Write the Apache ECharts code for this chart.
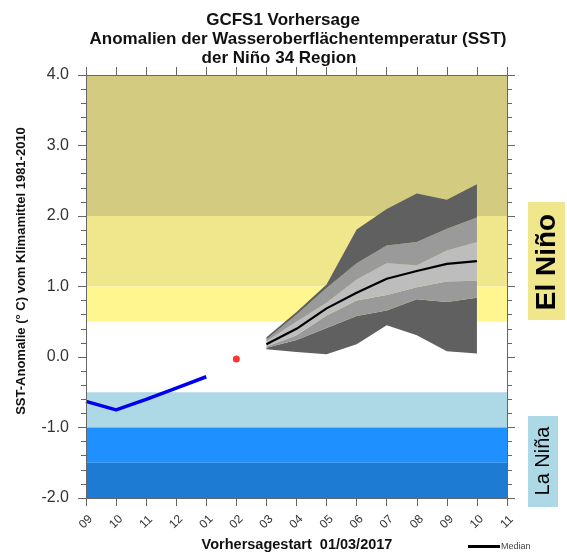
<!DOCTYPE html>
<html>
<head>
<meta charset="utf-8">
<script src="https://cdn.jsdelivr.net/npm/echarts@6/dist/echarts.min.js"></script>
<style>
  html, body { margin: 0; padding: 0; background: #fff; }
  #chart { width: 567px; height: 552px; }
</style>
</head>
<body>
<div id="chart"></div>
<script>
// month ticks along the x axis
var monthLabels = ['09','10','11','12','01','02','03','04','05','06','07','08','09','10','11'];

// observed anomaly (09/2016 .. 01/2017)
var obsStart = 0;
var obsValues = [-0.63, -0.75, -0.60, -0.44, -0.28];

// single point for 02/2017
var lastIndex = 5;
var lastValue = -0.03;

// ensemble forecast 03 .. 10
var fcStart = 6;
var fcMin    = [0.11, 0.07, 0.04, 0.18, 0.45, 0.31, 0.08, 0.05];
var fcLow2   = [0.13, 0.24, 0.41, 0.58, 0.66, 0.82, 0.78, 0.84];
var fcLow1   = [0.15, 0.31, 0.59, 0.80, 0.88, 0.99, 1.07, 1.08];
var fcMedian = [0.18, 0.40, 0.69, 0.91, 1.11, 1.22, 1.32, 1.36];
var fcHigh1  = [0.22, 0.50, 0.77, 1.10, 1.33, 1.30, 1.51, 1.63];
var fcHigh2  = [0.25, 0.60, 0.98, 1.33, 1.58, 1.63, 1.82, 1.98];
var fcMax    = [0.28, 0.64, 1.03, 1.81, 2.10, 2.32, 2.23, 2.45];

// ENSO background bands
var bandFrom   = [2.0, 1.0, 0.5, -1.0, -1.5, -2.0];
var bandTo     = [4.0, 2.0, 1.0, -0.5, -1.0, -1.5];
var bandColors = ['#d3cc80', '#f0e68c', '#fff68f', '#add8e6', '#1e90ff', '#1d7bd4'];

var DARK = '#606060', MID = '#9a9a9a', LIGHT = '#bdbdbd';

function pad(values, start) {
    var out = [];
    for (var i = 0; i < monthLabels.length; i++) {
        var k = i - start;
        out.push(k >= 0 && k < values.length ? values[k] : '-');
    }
    return out;
}

function diff(a, b) {
    return a.map(function (v, i) { return +(v - b[i]).toFixed(3); });
}

function bandSeries(name, values, color) {
    return {
        name: name,
        type: 'line',
        stack: 'fan',
        data: pad(values, fcStart),
        symbol: 'none',
        lineStyle: { width: 0, opacity: 0 },
        areaStyle: color ? { color: color, opacity: 1 } : undefined,
        silent: true,
        z: 3
    };
}

var bandAreas = bandFrom.map(function (f, i) {
    return [{ yAxis: f, itemStyle: { color: bandColors[i] } }, { yAxis: bandTo[i] }];
});

var axisGray = '#666';

var option = {
    animation: false,
    textStyle: { fontFamily: 'Liberation Sans, Arial, sans-serif' },
    grid: { left: 86, right: 60, top: 75, bottom: 54 },
    legend: {
        data: ['Median'],
        left: 463,
        top: 537,
        icon: 'rect',
        itemWidth: 32,
        itemHeight: 3,
        textStyle: { fontSize: 9, color: '#444', padding: [0, 0, 0, -4] }
    },
    graphic: [
        { type: 'text', x: 283, y: 20, style: { text: 'GCFS1 Vorhersage', font: 'bold 17px Liberation Sans', fill: '#111', textAlign: 'center', textVerticalAlign: 'middle' } },
        { type: 'text', x: 298, y: 39, style: { text: 'Anomalien der Wasseroberflächentemperatur (SST)', font: 'bold 17px Liberation Sans', fill: '#111', textAlign: 'center', textVerticalAlign: 'middle' } },
        { type: 'text', x: 279, y: 58, style: { text: 'der Niño 34 Region', font: 'bold 17px Liberation Sans', fill: '#111', textAlign: 'center', textVerticalAlign: 'middle' } },
        { type: 'text', x: 21, y: 271, rotation: Math.PI / 2, style: { text: 'SST-Anomalie (° C) vom Klimamittel 1981-2010', font: 'bold 13px Liberation Sans', fill: '#111', textAlign: 'center', textVerticalAlign: 'middle' } },
        { type: 'text', x: 297, y: 545, style: { text: 'Vorhersagestart  01/03/2017', font: 'bold 14.5px Liberation Sans', fill: '#111', textAlign: 'center', textVerticalAlign: 'middle' } },
        { type: 'rect', shape: { x: 528, y: 202, width: 37, height: 118 }, style: { fill: '#f0e68c' } },
        { type: 'text', x: 547, y: 262, rotation: Math.PI / 2, style: { text: 'El Niño', font: 'bold 28px Liberation Sans', fill: '#000', textAlign: 'center', textVerticalAlign: 'middle' } },
        { type: 'rect', shape: { x: 528, y: 416, width: 30, height: 91 }, style: { fill: '#add8e6' } },
        { type: 'text', x: 543, y: 461, rotation: Math.PI / 2, style: { text: 'La Niña', font: '20px Liberation Sans', fill: '#000', textAlign: 'center', textVerticalAlign: 'middle' } }
    ],
    xAxis: [
        {
            type: 'category',
            data: monthLabels,
            boundaryGap: false,
            z: 10,
            axisLine: { onZero: false, lineStyle: { color: axisGray } },
            axisTick: { length: 8, interval: 0, lineStyle: { color: axisGray } },
            axisLabel: { interval: 0, rotate: 45, fontSize: 12, color: '#333', margin: 24, align: 'center', verticalAlign: 'middle' },
            splitLine: { show: false }
        },
        {
            type: 'category',
            data: monthLabels,
            boundaryGap: false,
            position: 'top',
            z: 10,
            axisLine: { onZero: false, lineStyle: { color: axisGray } },
            axisTick: { length: 8, interval: 0, lineStyle: { color: axisGray } },
            axisLabel: { show: false },
            splitLine: { show: false }
        }
    ],
    yAxis: [
        {
            type: 'value',
            min: -2,
            max: 4,
            interval: 1,
            z: 10,
            axisLine: { show: true, onZero: false, lineStyle: { color: axisGray } },
            axisTick: { show: true, length: 8, lineStyle: { color: axisGray } },
            minorTick: { show: true, splitNumber: 5, length: 5, lineStyle: { color: axisGray } },
            axisLabel: { fontSize: 16, color: '#333', margin: 17, formatter: function (v) { return v.toFixed(1); } },
            splitLine: { show: false },
            minorSplitLine: { show: false }
        },
        {
            type: 'value',
            min: -2,
            max: 4,
            interval: 1,
            position: 'right',
            z: 10,
            axisLine: { show: true, onZero: false, lineStyle: { color: axisGray } },
            axisTick: { show: true, length: 8, lineStyle: { color: axisGray } },
            minorTick: { show: true, splitNumber: 5, length: 5, lineStyle: { color: axisGray } },
            axisLabel: { show: false },
            splitLine: { show: false },
            minorSplitLine: { show: false }
        }
    ],
    series: [
        {
            name: 'bands',
            type: 'line',
            data: [],
            z: 1,
            silent: true,
            markArea: { silent: true, data: bandAreas }
        },
        bandSeries('fcBase', fcMin, null),
        bandSeries('d1', diff(fcLow2, fcMin), DARK),
        bandSeries('d2', diff(fcLow1, fcLow2), MID),
        bandSeries('d3', diff(fcHigh1, fcLow1), LIGHT),
        bandSeries('d4', diff(fcHigh2, fcHigh1), MID),
        bandSeries('d5', diff(fcMax, fcHigh2), DARK),
        {
            name: 'Median',
            type: 'line',
            data: pad(fcMedian, fcStart),
            symbol: 'none',
            color: '#000',
            lineStyle: { color: '#000', width: 2.2 },
            z: 5
        },
        {
            name: 'Beobachtung',
            type: 'line',
            data: pad(obsValues, obsStart),
            symbol: 'none',
            lineStyle: { color: '#0000ee', width: 3.5 },
            z: 5
        },
        {
            name: 'Analyse',
            type: 'scatter',
            data: [[lastIndex, lastValue]],
            symbolSize: 7,
            itemStyle: { color: '#ff0000' },
            z: 5
        }
    ]
};

var chart = echarts.init(document.getElementById('chart'));
chart.setOption(option);
</script>
</body>
</html>
